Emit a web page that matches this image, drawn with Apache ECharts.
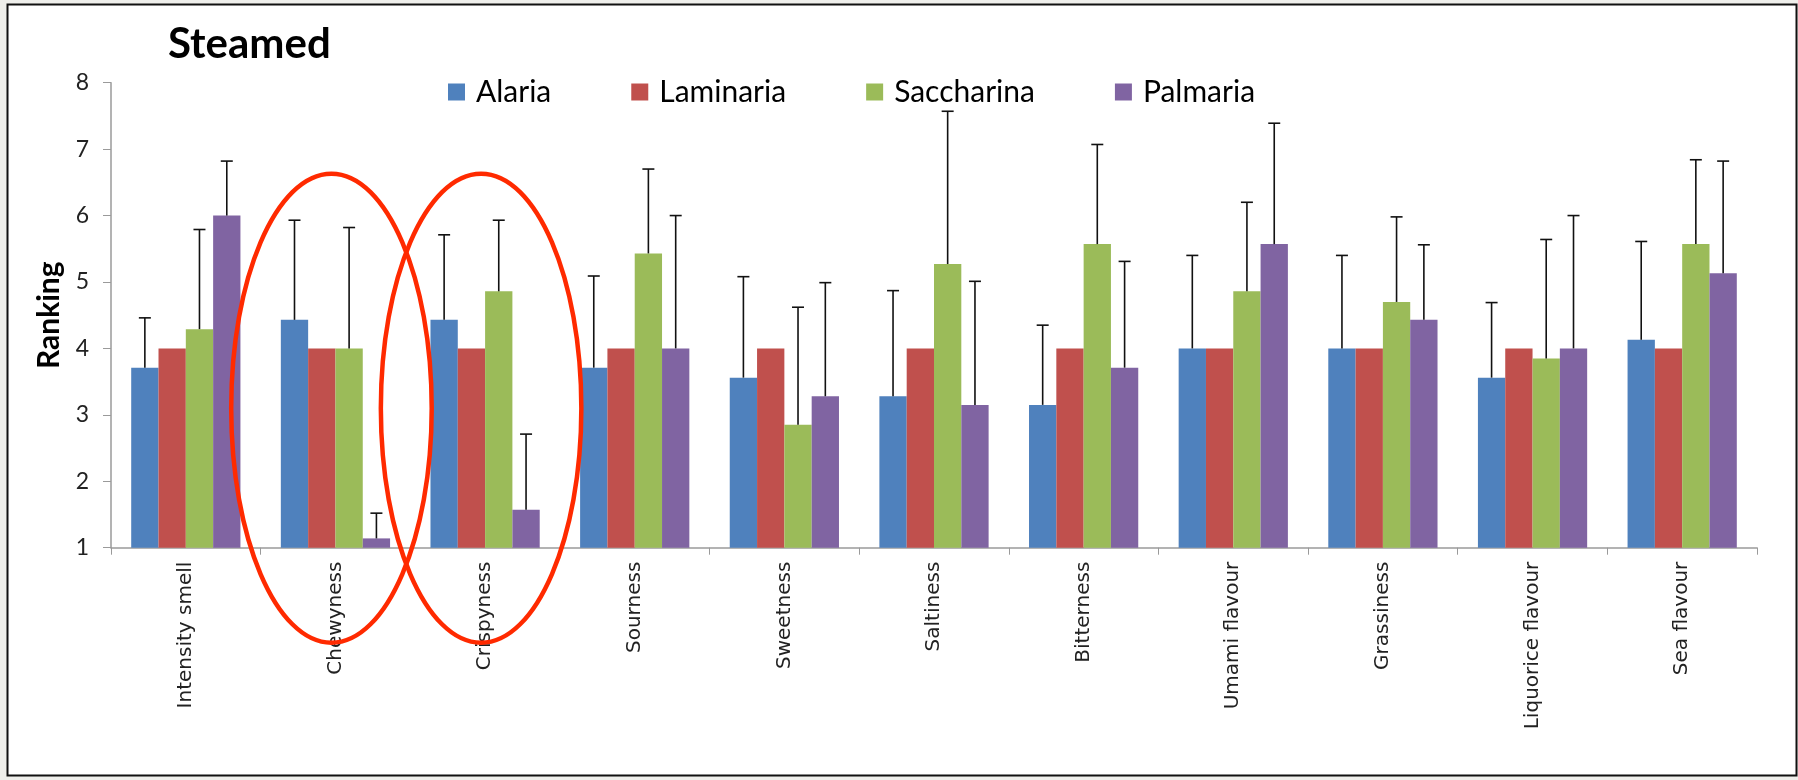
<!DOCTYPE html>
<html>
<head>
<meta charset="utf-8">
<script src="https://cdn.jsdelivr.net/npm/echarts@6/dist/echarts.min.js"></script>
<style>
  html, body { margin: 0; padding: 0; background: #efefeb; }
  #chart { width: 1798px; height: 780px; }
</style>
</head>
<body>
<div id="chart"></div>
<script>
// ---- data ----
const categories = ['Intensity smell', 'Chewyness', 'Crispyness', 'Sourness', 'Sweetness',
  'Saltiness', 'Bitterness', 'Umami flavour', 'Grassiness', 'Liquorice flavour', 'Sea flavour'];
const seriesNames = ['Alaria', 'Laminaria', 'Saccharina', 'Palmaria'];

const alaria     = [3.71, 4.43, 4.43, 3.71, 3.56, 3.28, 3.15, 4.00, 4.00, 3.56, 4.13];
const laminaria  = [4.00, 4.00, 4.00, 4.00, 4.00, 4.00, 4.00, 4.00, 4.00, 4.00, 4.00];
const saccharina = [4.29, 4.00, 4.86, 5.43, 2.85, 5.27, 5.57, 4.86, 4.70, 3.85, 5.57];
const palmaria   = [6.00, 1.14, 1.57, 4.00, 3.28, 3.15, 3.71, 5.57, 4.43, 4.00, 5.13];

// upper error-bar lengths (standard deviations)
const alariaErr     = [0.75, 1.50, 1.28, 1.38, 1.52, 1.59, 1.20, 1.40, 1.40, 1.13, 1.48];
const laminariaErr  = [0, 0, 0, 0, 0, 0, 0, 0, 0, 0, 0];
const saccharinaErr = [1.50, 1.82, 1.07, 1.27, 1.77, 2.30, 1.50, 1.34, 1.28, 1.79, 1.27];
const palmariaErr   = [0.82, 0.38, 1.14, 2.00, 1.71, 1.86, 1.60, 1.82, 1.13, 2.00, 1.69];

const yTicks = [1, 2, 3, 4, 5, 6, 7, 8];

// annotation ellipses (category index, value centre, half-width in bands, half-height in value units)
const ellipses = [
  { cat: 1, val: 3.1, rxBand: 0.67, ryVal: 3.53 },
  { cat: 2, val: 3.1, rxBand: 0.67, ryVal: 3.53 }
];

// ---- chart ----
const colors = ['#4F81BD', '#C0504D', '#9BBB59', '#8064A2'];
const means = [alaria, laminaria, saccharina, palmaria];
const errs = [alariaErr, laminariaErr, saccharinaErr, palmariaErr];
const CAT_GAP = 0.27;

const chart = echarts.init(document.getElementById('chart'), null, { renderer: 'canvas' });

const barSeries = seriesNames.map((name, i) => ({
  name: name,
  type: 'bar',
  data: means[i],
  barGap: '0%',
  barCategoryGap: (CAT_GAP * 100) + '%',
  itemStyle: { color: colors[i] },
  clip: true,
  z: 2
}));

const errSeries = seriesNames.map((name, i) => ({
  name: name + ' error',
  type: 'custom',
  z: 3,
  data: means[i].map((m, k) => [k, m, errs[i][k]]),
  encode: { x: 0, y: 1 },
  renderItem: function (params, api) {
    const k = api.value(0), m = api.value(1), e = api.value(2);
    if (!e) return null;
    const band = api.size([1, 0])[0];
    const bw = band * (1 - CAT_GAP) / 4;
    const base = api.coord([k, m]);
    const top = api.coord([k, m + e]);
    const cx = base[0] + (i - 1.5) * bw;
    const style = { stroke: '#111', lineWidth: 1.6 };
    return {
      type: 'group',
      children: [
        { type: 'line', shape: { x1: cx, y1: base[1], x2: cx, y2: top[1] }, style: style },
        { type: 'line', shape: { x1: cx - 6, y1: top[1], x2: cx + 6, y2: top[1] }, style: style }
      ]
    };
  }
}));

const option = {
  backgroundColor: '#efefeb',
  animation: false,
  color: colors,
  title: {
    text: 'Steamed',
    left: 163,
    top: 18,
    textStyle: { fontFamily: 'Lato', fontWeight: 'bold', fontSize: 42, color: '#000' }
  },
  legend: {
    data: seriesNames,
    left: 443,
    top: 72,
    icon: 'rect',
    itemWidth: 17,
    itemHeight: 17,
    itemGap: 80,
    textStyle: { fontFamily: 'Lato', fontSize: 30, color: '#000', lineHeight: 20, padding: [0, 0, 0, 6] }
  },
  grid: { left: 111, right: 41, top: 82.7, bottom: 232.3, containLabel: false },
  xAxis: {
    type: 'category',
    data: categories,
    axisLine: { lineStyle: { color: '#9a9a9a', width: 1.5 } },
    axisTick: { show: true, length: 7, lineStyle: { color: '#9a9a9a' } },
    axisLabel: {
      rotate: 90,
      interval: 0,
      margin: 14,
      fontFamily: 'DejaVu Sans',
      fontSize: 20,
      color: '#222'
    }
  },
  yAxis: {
    type: 'value',
    min: yTicks[0],
    max: yTicks[yTicks.length - 1],
    interval: 1,
    name: 'Ranking',
    nameLocation: 'middle',
    nameGap: 47,
    nameTextStyle: { fontFamily: 'Lato', fontWeight: 'bold', fontSize: 30, color: '#000' },
    axisLine: { show: true, lineStyle: { color: '#9a9a9a', width: 1.5 } },
    axisTick: { show: true, length: 8, lineStyle: { color: '#9a9a9a' } },
    axisLabel: { margin: 22, fontFamily: 'Lato', fontSize: 23, color: '#222' },
    splitLine: { show: false }
  },
  graphic: [{
    type: 'rect',
    z: -10,
    silent: true,
    shape: { x: 7.5, y: 4.5, width: 1789, height: 771 },
    style: { fill: '#fff', stroke: '#111', lineWidth: 2 }
  }],
  series: barSeries.concat(errSeries)
};

chart.setOption(option);

// red annotation ellipses, positioned through the chart's own scales
const ellipseGraphics = ellipses.map(el => {
  const c = chart.convertToPixel({ gridIndex: 0 }, [el.cat, el.val]);
  const c2 = chart.convertToPixel({ gridIndex: 0 }, [el.cat + 1, el.val + el.ryVal]);
  const band = c2[0] - c[0];
  return {
    type: 'ellipse',
    z: 100,
    silent: true,
    shape: { cx: c[0] - 4, cy: c[1], rx: band * el.rxBand, ry: c[1] - c2[1] },
    style: { fill: 'none', stroke: '#ff2a00', lineWidth: 4.5 }
  };
});
chart.setOption({ graphic: option.graphic.concat(ellipseGraphics) });
</script>
</body>
</html>
